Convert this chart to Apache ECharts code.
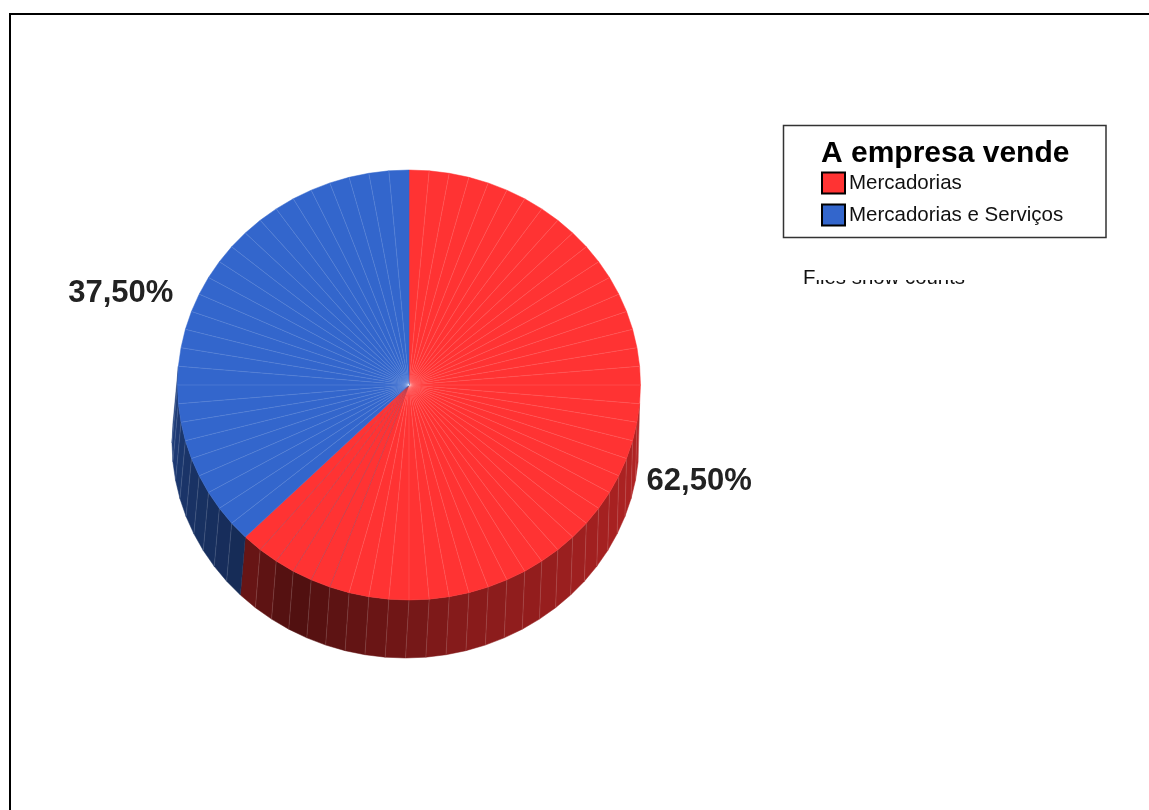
<!DOCTYPE html>
<html>
<head>
<meta charset="utf-8">
<title>A empresa vende</title>
<script src="https://cdn.jsdelivr.net/npm/echarts@6/dist/echarts.min.js"></script>
<style>
  html, body { margin: 0; padding: 0; background: #fff; overflow: hidden; }
  #chart { width: 1149px; height: 810px; }
</style>
</head>
<body>
<div id="chart"></div>
<script>
// Chart content
const legendTitle = 'A empresa vende';
const sliceNames = ['Mercadorias', 'Mercadorias e Serviços'];
const sliceShares = [62.5, 37.5];
const sliceColors = ['#ff3333', '#3366cc'];
const footnote = 'Files show counts';

// Disc geometry: rim of the top face and rim of the underside
const topRim = { cx: 409, cy: 385, rx: 231.5, ry: 215 };
const bottomRim = { cx: 405.5, cy: 443, rx: 233.5, ry: 215 };
const labelRim = { cx: 410, cy: 387.5, rx: 313, ry: 245 };
const facetStep = 5;
const wallFrom = 95;
const wallTo = 275;

// Wall brightness by clockwise angle from twelve o'clock
const wallAngles = [95, 125, 168, 180, 209, 225, 250, 275];
const wallShades = [0.70, 0.64, 0.52, 0.45, 0.31, 0.42, 0.50, 0.62];

function rimPoint(rim, deg) {
  const r = deg * Math.PI / 180;
  return [rim.cx + rim.rx * Math.sin(r), rim.cy - rim.ry * Math.cos(r)];
}

function wallShade(deg) {
  for (let i = 1; i < wallAngles.length; i++) {
    if (deg <= wallAngles[i]) {
      const t = (deg - wallAngles[i - 1]) / (wallAngles[i] - wallAngles[i - 1]);
      return wallShades[i - 1] + t * (wallShades[i] - wallShades[i - 1]);
    }
  }
  return wallShades[wallShades.length - 1];
}

function shadeColor(hex, k) {
  const n = parseInt(hex.slice(1), 16);
  const c = [n >> 16, (n >> 8) & 255, n & 255].map(v => Math.round(v * k));
  return 'rgb(' + c.join(',') + ')';
}

const shareTotal = sliceShares.reduce((a, b) => a + b, 0);

function sliceRange(index) {
  const before = sliceShares.slice(0, index).reduce((a, b) => a + b, 0);
  return [before / shareTotal * 360, (before + sliceShares[index]) / shareTotal * 360];
}

function facetEdges(from, to) {
  const edges = [from];
  let a = Math.floor(from / facetStep) * facetStep + facetStep;
  while (a < to) { edges.push(a); a += facetStep; }
  edges.push(to);
  return edges;
}

function seam(p, q, stroke) {
  return {
    type: 'line',
    shape: { x1: p[0], y1: p[1], x2: q[0], y2: q[1] },
    style: { stroke: stroke, lineWidth: 0.5 }
  };
}

function renderSlice(index) {
  return function (params, api) {
    const value = api.value(0);
    const [from, to] = sliceRange(index);
    const color = sliceColors[index];
    const children = [];
    const edges = facetEdges(from, to);
    const centre = [topRim.cx, topRim.cy];

    // Side wall, only the part facing the viewer
    for (let i = 0; i < edges.length - 1; i++) {
      const a = edges[i], b = edges[i + 1];
      if (b <= wallFrom || a >= wallTo) continue;
      const fill = shadeColor(color, wallShade((a + b) / 2));
      children.push({
        type: 'polygon',
        shape: { points: [rimPoint(topRim, a), rimPoint(topRim, b), rimPoint(bottomRim, b), rimPoint(bottomRim, a)] },
        style: { fill: fill, stroke: fill, lineWidth: 0.5 }
      });
      if (i > 0) children.push(seam(rimPoint(topRim, a), rimPoint(bottomRim, a), 'rgba(255,255,255,0.25)'));
    }

    // Top face, one thin wedge per facet
    for (let i = 0; i < edges.length - 1; i++) {
      children.push({
        type: 'polygon',
        shape: { points: [centre, rimPoint(topRim, edges[i]), rimPoint(topRim, edges[i + 1])] },
        style: { fill: color, stroke: color, lineWidth: 0.5 }
      });
    }
    for (let i = 1; i < edges.length - 1; i++) {
      // Seams turn grey on the stretch approaching the blue slice
      const nearEnd = index === 0 && edges[i] >= 200;
      children.push(seam(centre, rimPoint(topRim, edges[i]), nearEnd ? 'rgba(80,80,120,0.6)' : 'rgba(255,255,255,0.24)'));
    }

    // Percentage label beside the slice
    const at = rimPoint(labelRim, (from + to) / 2);
    children.push({
      type: 'text',
      style: {
        text: value.toFixed(2).replace('.', ',') + '%',
        x: at[0], y: at[1],
        fill: '#222',
        font: 'bold 31px "Liberation Sans", Arial, sans-serif',
        textAlign: 'center',
        verticalAlign: 'middle'
      }
    });
    return { type: 'group', children: children };
  };
}

const chart = echarts.init(document.getElementById('chart'), null, { renderer: 'canvas' });

chart.setOption({
  animation: false,
  backgroundColor: '#ffffff',
  title: {
    text: legendTitle,
    left: 821, top: 139, padding: 0,
    textStyle: { fontFamily: '"Liberation Sans", Arial, sans-serif', fontWeight: 'bold', fontSize: 30, color: '#000' }
  },
  legend: {
    orient: 'vertical',
    left: 821, top: 171.5, padding: 0,
    itemWidth: 23, itemHeight: 21, itemGap: 9,
    icon: 'rect',
    selectedMode: false,
    data: sliceNames,
    itemStyle: { borderColor: '#000', borderWidth: 2 },
    textStyle: { fontFamily: '"Liberation Sans", Arial, sans-serif', fontSize: 20.5, color: '#111', padding: [0, 0, 0, -1] }
  },
  graphic: [
    { type: 'polyline', silent: true, z: 0, shape: { points: [[10, 810], [10, 14], [1149, 14]] }, style: { fill: 'none', stroke: '#000', lineWidth: 2 } },
    { type: 'rect', silent: true, z: 0, shape: { x: 783.5, y: 125.5, width: 322.5, height: 112 }, style: { fill: '#fff', stroke: '#333', lineWidth: 1.5 } },
    { type: 'text', silent: true, z: 1, style: { text: footnote, x: 803, y: 268, fill: '#111', font: '20.4px "Liberation Sans", Arial, sans-serif' } },
    { type: 'rect', silent: true, z: 2, shape: { x: 815, y: 262, width: 160, height: 18 }, style: { fill: '#fff' } }
  ],
  series: sliceNames.map((name, i) => ({
    type: 'custom',
    name: name,
    coordinateSystem: 'none',
    silent: true,
    z: 3,
    itemStyle: { color: sliceColors[i] },
    data: [[sliceShares[i]]],
    renderItem: renderSlice(i)
  }))
});
</script>
</body>
</html>
